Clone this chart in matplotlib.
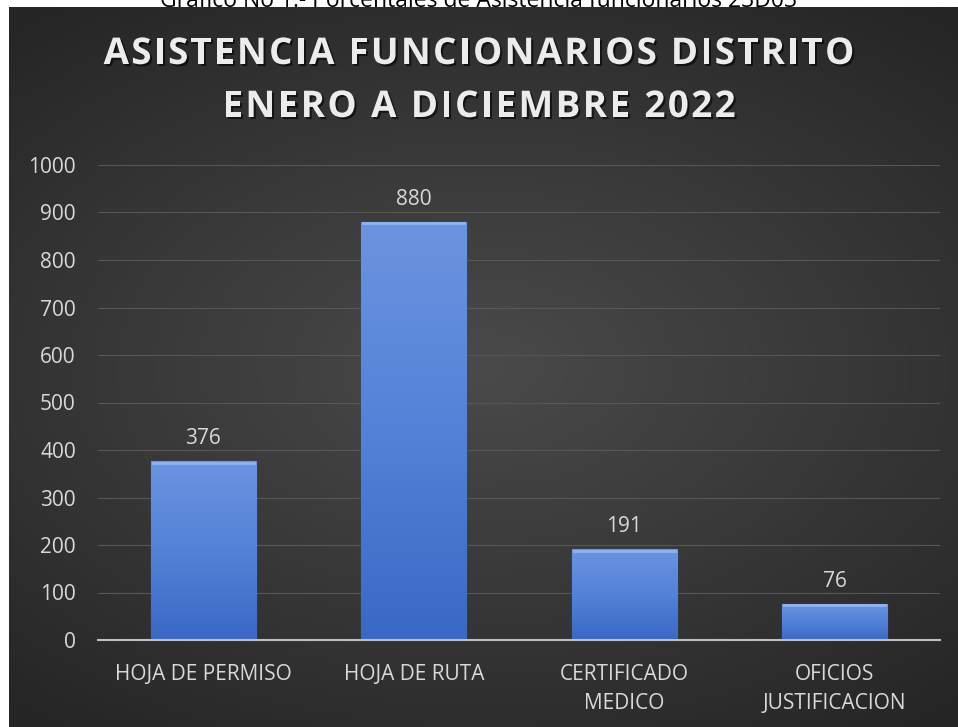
import numpy as np
import matplotlib.pyplot as plt
import matplotlib.patheffects as pe
from matplotlib.colors import LinearSegmentedColormap
from matplotlib.font_manager import FontProperties
from matplotlib.textpath import TextToPath

categorias = ['HOJA DE PERMISO', 'HOJA DE RUTA', 'CERTIFICADO\nMEDICO', 'OFICIOS\nJUSTIFICACION']
valores = [376, 880, 191, 76]
titulo = ['ASISTENCIA FUNCIONARIOS DISTRITO', 'ENERO A DICIEMBRE 2022']
leyenda = 'Gráfico No 1.- Porcentajes de Asistencia funcionarios 23D03'

plt.rcParams['font.family'] = ['Open Sans', 'DejaVu Sans']

W, H = 958, 727
fig = plt.figure(figsize=(W / 100, H / 100), dpi=100)
fig.patch.set_facecolor('white')

# fondo oscuro con degradado radial
bg = fig.add_axes([9 / W, 0, 1 - 9 / W, 1 - 7 / H], zorder=0)
yy, xx = np.mgrid[-1:1:300j, -1:1:400j]
r = np.sqrt((xx * 0.9) ** 2 + (yy * 1.1) ** 2)
fondo = LinearSegmentedColormap.from_list('fondo', ['#4a4a4a', '#383838', '#252525'])
bg.imshow(r, cmap=fondo, aspect='auto', vmin=0, vmax=1.4, extent=[0, 1, 0, 1])
bg.set_axis_off()

# leyenda superior, cortada por el panel como en el original
fig.text(0.5, 1 - 7 / H, leyenda, ha='center', va='baseline', fontsize=16.5,
         color='black', zorder=-1)


# titulo con espaciado entre letras
def texto_espaciado(s, yc, size, track):
    prop = FontProperties(family='Open Sans', weight='bold', size=size)
    t2p = TextToPath()
    anchos = [t2p.get_text_width_height_descent(c, prop, ismath=False)[0] * 100 / 72 for c in s]
    total = sum(anchos) + track * (len(s) - 1)
    x = (W - total) / 2
    for c, a in zip(s, anchos):
        fig.text(x / W, 1 - yc / H, c, ha='left', va='center', fontproperties=prop,
                 color='#ececec',
                 path_effects=[pe.withSimplePatchShadow(offset=(1.5, -1.5), shadow_rgbFace='black', alpha=0.6)])
        x += a + track


texto_espaciado(titulo[0], 54, 26.5, 2.2)
texto_espaciado(titulo[1], 107, 26.5, 2.4)

ax = fig.add_axes([98 / W, 87 / H, 842 / W, 475 / H], zorder=1)
ax.set_facecolor('none')
x = np.arange(len(categorias))
barras = ax.bar(x, valores, 0.5, color='#4a78d0', edgecolor='#2f5597', linewidth=1, zorder=3)

grad = LinearSegmentedColormap.from_list('barra', ['#3a68c4', '#5382d8', '#6c93e0'])
for b in barras:
    x0, y0 = b.get_x(), b.get_y()
    w, h = b.get_width(), b.get_height()
    im = ax.imshow(np.linspace(0, 1, 100).reshape(-1, 1), cmap=grad, origin='lower',
                   aspect='auto', extent=[x0, x0 + w, y0, y0 + h], zorder=3)
    im.set_clip_path(b)
    ax.plot([x0 + 0.01, x0 + w - 0.01], [h - 3, h - 3], color='#93b3ef', lw=2, zorder=4)

for xi, v in zip(x, valores):
    ax.text(xi, v + 36, str(v), ha='center', va='baseline', fontsize=15, color='#d9d9d9')

ax.set_ylim(0, 1000)
ax.set_yticks(range(0, 1001, 100))
ax.set_xticks(x)
ax.set_xticklabels(categorias, linespacing=1.5)
ax.tick_params(axis='both', length=0, labelsize=15, labelcolor='#d9d9d9')
ax.tick_params(axis='x', pad=17)
ax.tick_params(axis='y', pad=16)
ax.grid(axis='y', color='#575757', lw=0.8, zorder=0)
ax.set_axisbelow(True)
for s in ['top', 'right', 'left']:
    ax.spines[s].set_visible(False)
ax.spines['bottom'].set_color('#bfbfbf')
ax.spines['bottom'].set_linewidth(1.5)
ax.spines['bottom'].set_zorder(5)
ax.set_xlim(-0.5, len(categorias) - 0.5)

fig.savefig('out.png', dpi=100)
